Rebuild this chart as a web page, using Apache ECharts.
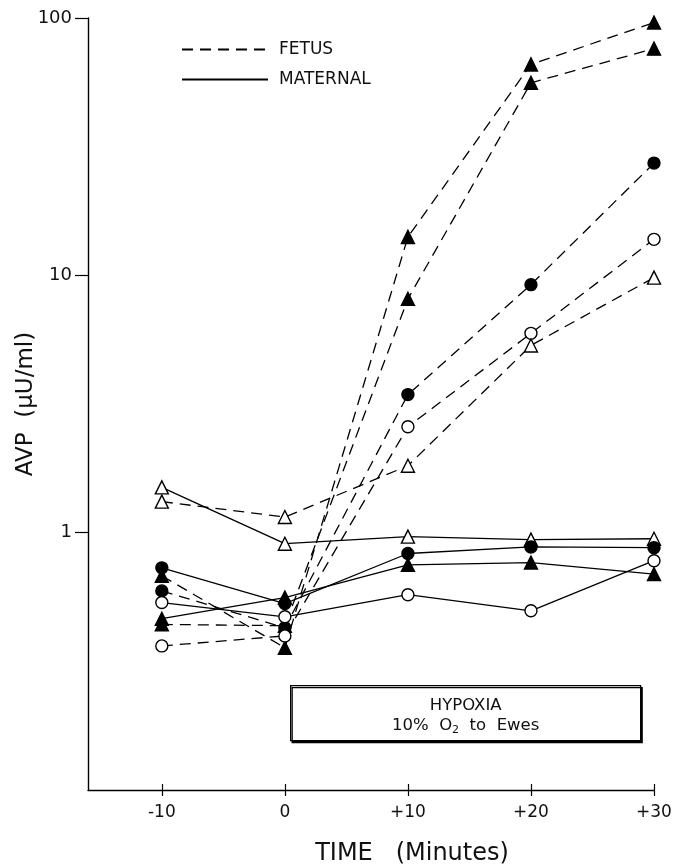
<!DOCTYPE html>
<html>
<head>
<meta charset="utf-8">
<script src="https://cdn.jsdelivr.net/npm/echarts@6/dist/echarts.min.js"></script>
<style>html,body{margin:0;padding:0;background:#fff}#c{width:677px;height:866px}</style>
</head>
<body>
<div id="c"></div>
<script>
// Time points (minutes)
const times = [-10, 0, 10, 20, 30];
const xTicks = [-10, 0, 10, 20, 30];
const yTicks = [1, 10, 100];

// FETUS (dashed)
const fetusTriFilledA = [0.68, 0.357, 14.1, 66, 96];
const fetusTriFilledB = [0.44, 0.435, 8.1, 56, 76];
const fetusCircFilled = [0.594, 0.427, 3.44, 9.2, 27.3];
const fetusCircOpen   = [0.363, 0.397, 2.58, 5.95, 13.8];
const fetusTriOpen    = [1.32, 1.15, 1.82, 5.34, 9.8];

// MATERNAL (solid)
const matTriOpen    = [1.50, 0.906, 0.965, 0.94, 0.947];
const matCircFilled = [0.73, 0.53, 0.83, 0.88, 0.874];
const matTriFilled  = [0.463, 0.559, 0.75, 0.765, 0.69];
const matCircOpen   = [0.535, 0.471, 0.574, 0.497, 0.778];

const FONT = 'DejaVu Sans';
const pair = arr => arr.map((v, i) => [times[i], v]);

function mk(name, data, dashed, symbol, filled) {
  return {
    type: 'line', name: name, data: pair(data),
    xAxisIndex: 0, yAxisIndex: 0,
    symbol: symbol,
    symbolSize: symbol === 'triangle' ? 13 : 12,
    lineStyle: { color: '#000', width: 1.3, type: dashed ? [11, 7] : 'solid' },
    itemStyle: { color: filled ? '#000' : '#fff', borderColor: '#000', borderWidth: 1.4 },
    emphasis: { disabled: true },
    z: 3,
    animation: false
  };
}

const chart = echarts.init(document.getElementById('c'), null, { renderer: 'canvas' });
chart.setOption({
  backgroundColor: '#fff',
  animation: false,
  grid: { left: 88, right: 23, top: 18, bottom: 76, containLabel: false, outerBoundsMode: 'none' },
  legend: {
    orient: 'vertical', left: 176, top: 36,
    itemWidth: 86, itemHeight: 12, itemGap: 13,
    selectedMode: false,
    data: ['FETUS', 'MATERNAL'],
    itemStyle: { opacity: 0 },
    textStyle: { fontFamily: FONT, fontSize: 17, color: '#111', padding: [0, 0, 0, 6] }
  },
  xAxis: [{
    type: 'value', min: -16, max: 30, position: 'bottom',
    splitLine: { show: false },
    axisLine: { show: true, onZero: false, lineStyle: { color: '#000', width: 1.4 } },
    axisTick: { show: true, customValues: xTicks, length: 6, lineStyle: { color: '#000', width: 1.2 } },
    axisLabel: {
      customValues: xTicks, margin: 14,
      formatter: v => (v > 0 ? '+' + v : String(v)),
      fontFamily: FONT, fontSize: 17, color: '#111'
    },
    name: 'TIME   (Minutes)', nameLocation: 'middle', nameGap: 52, nameMoveOverlap: false,
    nameTextStyle: { fontFamily: FONT, fontSize: 24, color: '#111', padding: [0, 0, 0, 82] }
  }, {
    type: 'value', min: -16, max: 30, position: 'bottom',
    splitLine: { show: false },
    axisLine: { show: false, onZero: false },
    axisTick: { show: true, inside: true, customValues: xTicks, length: 6, lineStyle: { color: '#000', width: 1.2 } },
    axisLabel: { show: false }
  }],
  yAxis: {
    type: 'log', logBase: 10, min: 0.1, max: 100,
    splitLine: { show: false },
    axisLine: { show: true, onZero: false, lineStyle: { color: '#000', width: 1.4 } },
    axisTick: { show: true, customValues: yTicks, length: 13, lineStyle: { color: '#000', width: 1.2 } },
    axisLabel: {
      customValues: yTicks, margin: 16,
      formatter: v => String(v),
      fontFamily: FONT, fontSize: 18, color: '#111'
    },
    name: 'AVP  (\u03BCU/ml)', nameLocation: 'middle', nameGap: 50, nameRotate: 90, nameMoveOverlap: false,
    nameTextStyle: { fontFamily: FONT, fontSize: 23, color: '#111' }
  },
  series: [
    { type: 'line', name: 'FETUS', data: [], symbol: 'none',
      lineStyle: { color: '#000', width: 1.3, type: [11, 7] }, itemStyle: { color: '#000' } },
    { type: 'line', name: 'MATERNAL', data: [], symbol: 'none',
      lineStyle: { color: '#000', width: 1.3, type: 'solid' }, itemStyle: { color: '#000' } },
    mk('f1', fetusTriFilledA, true, 'triangle', true),
    mk('f2', fetusTriFilledB, true, 'triangle', true),
    mk('f3', fetusCircFilled, true, 'circle', true),
    mk('f4', fetusCircOpen, true, 'circle', false),
    mk('f5', fetusTriOpen, true, 'triangle', false),
    mk('m1', matTriOpen, false, 'triangle', false),
    mk('m2', matCircFilled, false, 'circle', true),
    mk('m3', matTriFilled, false, 'triangle', true),
    mk('m4', matCircOpen, false, 'circle', false)
  ],
  graphic: [{
    type: 'group', left: 290, top: 685,
    children: [{
      type: 'rect', shape: { x: 0, y: 0, width: 350, height: 55 },
      style: { fill: '#fff', stroke: '#000', lineWidth: 1.3, shadowColor: '#000', shadowOffsetX: 1.5, shadowOffsetY: 2, shadowBlur: 0 }
    }, {
      type: 'text', x: 175, y: 20,
      style: { text: 'HYPOXIA', fontFamily: FONT, fontSize: 16.5, fill: '#111', align: 'center', verticalAlign: 'middle' }
    }, {
      type: 'text', x: 175, y: 40,
      style: {
        text: '10%  O{s|2}  to  Ewes', fontFamily: FONT, fontSize: 16.5, fill: '#111', align: 'center', verticalAlign: 'middle',
        rich: { s: { fontFamily: FONT, fontSize: 11, fill: '#111', padding: [8, 0, 0, 0] } }
      }
    }]
  }]
});
</script>
</body>
</html>
